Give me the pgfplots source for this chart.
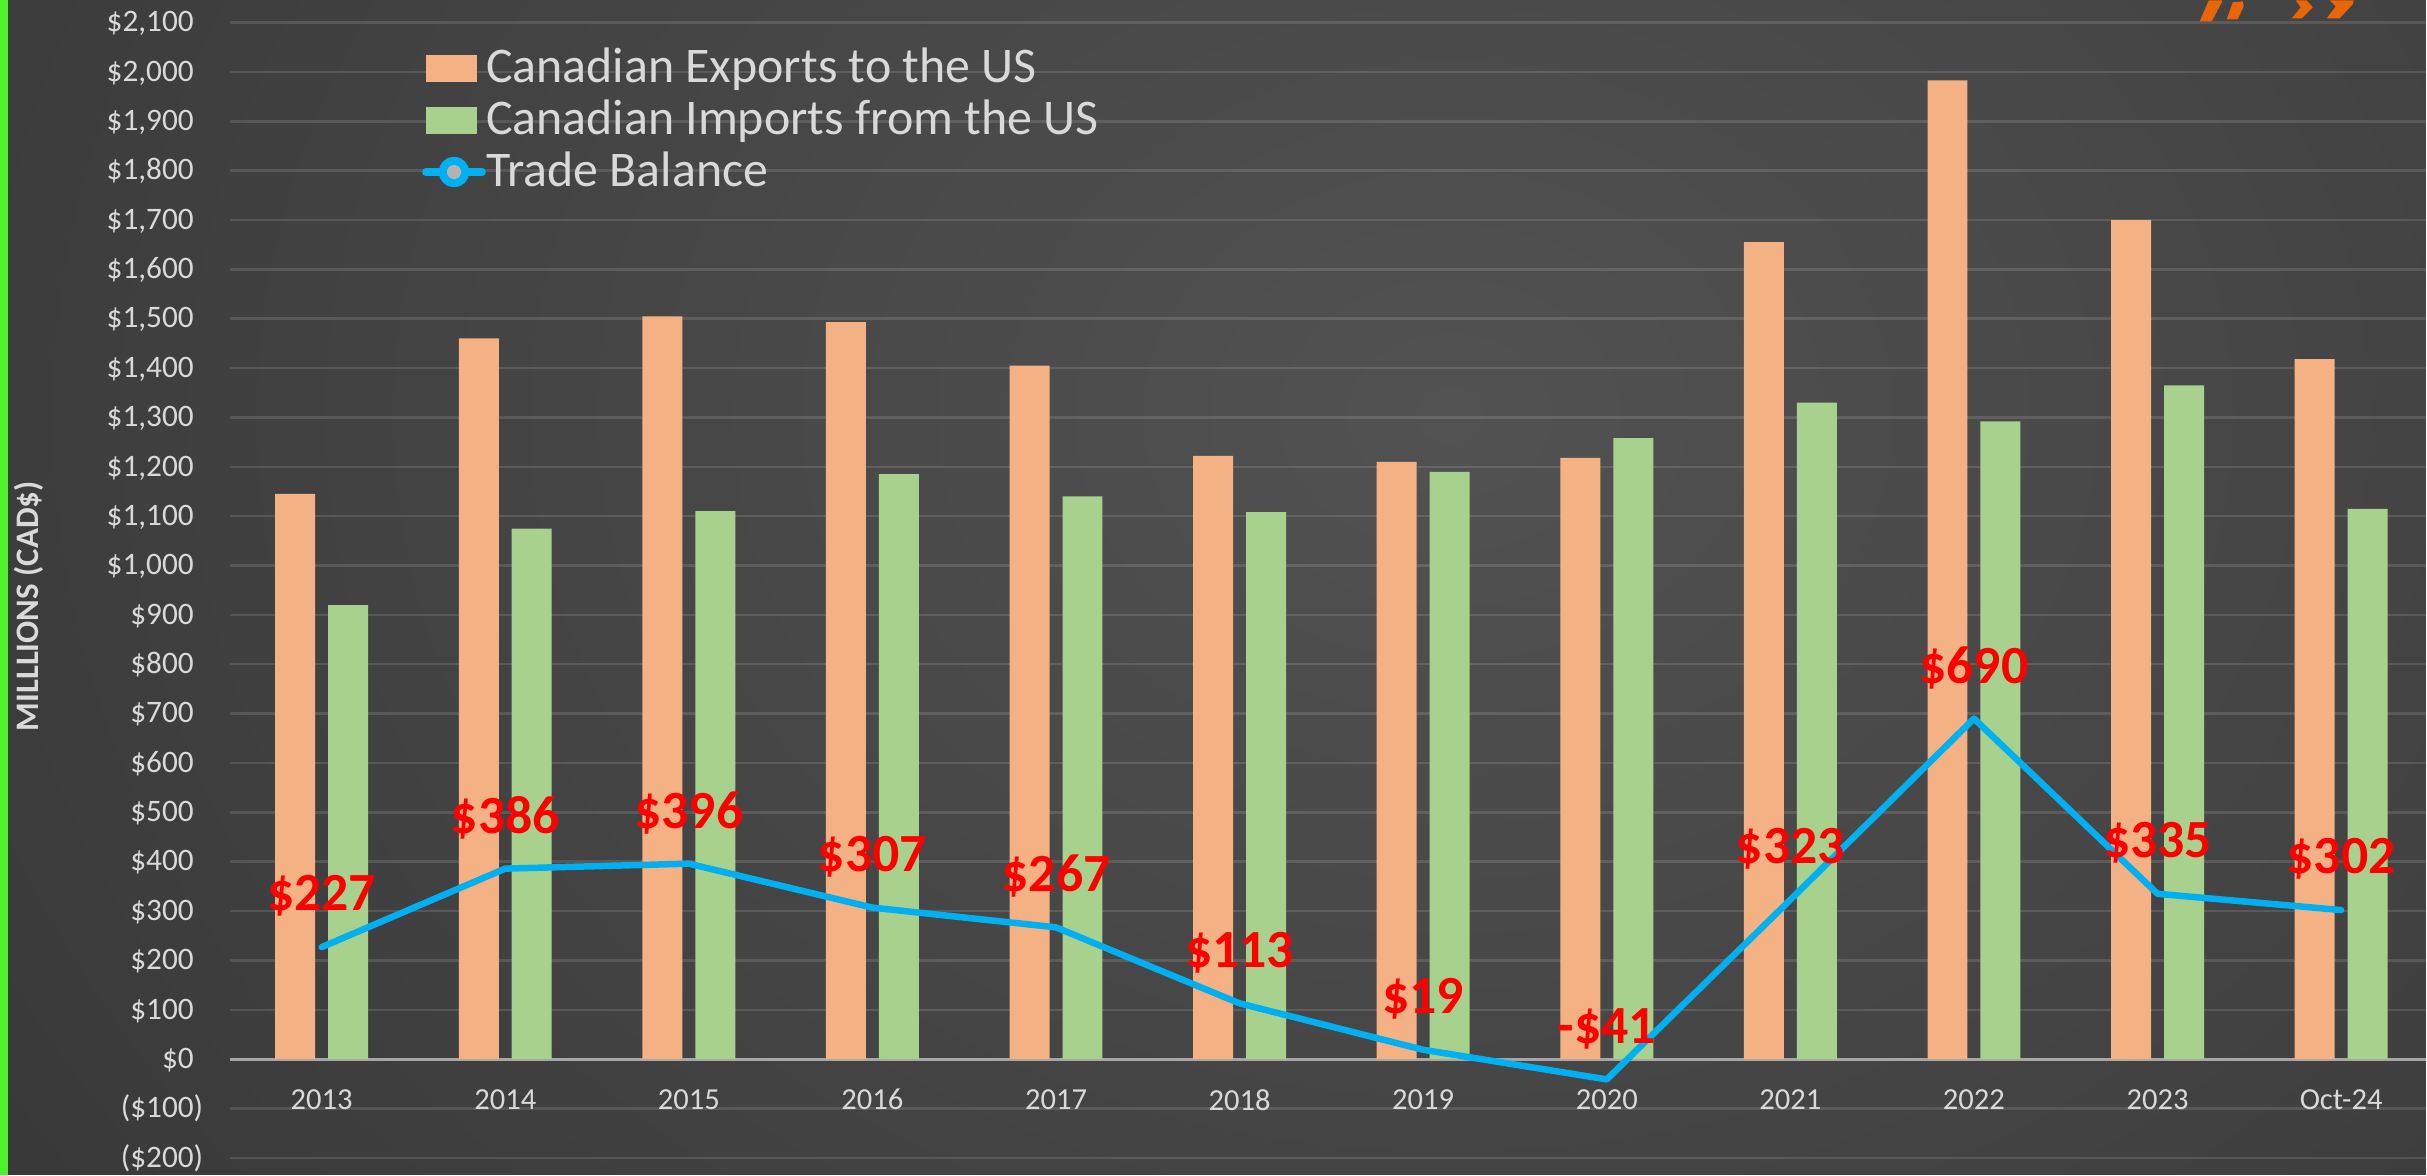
\documentclass[border=0pt]{standalone}
\usepackage{fontspec}
\setmainfont{Carlito}
\usepackage{pgfplots}
\pgfplotsset{compat=1.18}

\definecolor{bgout}{HTML}{262626}
\definecolor{bgin}{HTML}{525252}
\definecolor{expcol}{HTML}{F4B183}
\definecolor{impcol}{HTML}{A9D18E}
\definecolor{tbblue}{HTML}{00B0F0}
\definecolor{txtgray}{HTML}{D9D9D9}
\definecolor{zerogray}{HTML}{A6A6A6}
\definecolor{sidegreen}{HTML}{4DF22E}
\definecolor{logoorange}{HTML}{E8650A}

% positive labels keep room for the closing bracket of negatives
\newcommand{\pos}[1]{\$#1\phantom{)}}

\begin{document}
\begin{tikzpicture}
% background
\fill[bgout] (0,0) rectangle (24.27,11.75);
\begin{scope}
  \clip (0,0) rectangle (24.27,11.75);
  \shade[inner color=bgin, outer color=bgout] (14.5,7.6) ellipse (30 and 24);
\end{scope}
\fill[sidegreen] (0,0) rectangle (0.08,11.75);

\begin{axis}[
  at={(2.30cm,0cm)}, anchor=south west,
  scale only axis, width=21.97cm, height=11.75cm,
  xmin=-0.5, xmax=11.46, ymin=-234, ymax=2145,
  axis line style={draw=none}, major tick length=0pt,
  ymajorgrids, grid style={white, opacity=0.12, line width=0.7pt},
  extra y ticks={0}, extra y tick labels={},
  extra y tick style={grid style={zerogray, opacity=1, line width=0.8pt}},
  ytick={-200,-100,...,2100},
  yticklabels={(\$200),(\$100),\pos{0},\pos{100},\pos{200},\pos{300},\pos{400},
    \pos{500},\pos{600},\pos{700},\pos{800},\pos{900},\pos{1,000},\pos{1,100},
    \pos{1,200},\pos{1,300},\pos{1,400},\pos{1,500},\pos{1,600},\pos{1,700},
    \pos{1,800},\pos{1,900},\pos{2,000},\pos{2,100}},
  xtick={0,1,...,11},
  xticklabels={2013,2014,2015,2016,2017,2018,2019,2020,2021,2022,2023,Oct-24},
  yticklabel style={font=\fontsize{8.9}{10}\selectfont, text=txtgray,
    anchor=east, inner sep=0pt, xshift=-2.6mm},
  xticklabel style={font=\fontsize{8.7}{10}\selectfont, text=txtgray,
    anchor=center, inner sep=0pt, yshift=7.5mm},
  ylabel={MILLLIONS (CAD\$)},
  ylabel style={at={(rel axis cs:-0.0915,0.484)}, anchor=center,
    font=\bfseries\fontsize{9.35}{11}\selectfont, text=txtgray},
  legend style={at={(rel axis cs:0.0872,0.9598)}, anchor=north west,
    draw=none, fill=none, inner sep=0pt, row sep=1.2mm, column sep=0pt,
    font=\fontsize{14.2}{15}\selectfont, text=txtgray,
    nodes={inner sep=0pt}},
  legend cell align=left,
]

\addplot[ybar, bar width=0.40cm, bar shift=-0.265cm, fill=expcol, draw=none,
  legend image code/.code={\fill[expcol] (0cm,-0.135cm) rectangle (0.51cm,0.135cm);}]
  coordinates {
  (0,1145) (1,1460) (2,1505) (3,1493) (4,1405) (5,1222)
  (6,1210) (7,1218) (8,1655) (9,1983) (10,1700) (11,1418)
};
\addlegendentry{Canadian Exports to the US}

\addplot[ybar, bar width=0.40cm, bar shift=0.265cm, fill=impcol, draw=none,
  legend image code/.code={\fill[impcol] (0cm,-0.135cm) rectangle (0.51cm,0.135cm);}]
  coordinates {
  (0,920) (1,1075) (2,1110) (3,1185) (4,1140) (5,1108)
  (6,1190) (7,1258) (8,1330) (9,1292) (10,1365) (11,1115)
};
\addlegendentry{Canadian Imports from the US}

\addplot[color=tbblue, line width=1.85pt, mark=none, line join=round, line cap=round,
  nodes near coords, point meta=explicit symbolic,
  every node near coord/.append style={font=\bfseries\fontsize{15.3}{17}\selectfont,
    text=red, anchor=center, yshift=5.1mm},
  legend image code/.code={
    \draw[tbblue, line width=0.8mm, line cap=round] (0cm,0cm) -- (0.56cm,0cm);
    \fill[tbblue] (0.28cm,0cm) circle (0.12cm);
    \fill[gray!60] (0.28cm,0cm) circle (0.04cm);}]
  coordinates {
  (0,227) [\$227] (1,386) [\$386] (2,396) [\$396] (3,307) [\$307]
  (4,267) [\$267] (5,113) [\$113] (6,19) [\$19] (7,-41) [-\$41]
  (8,323) [\$323] (9,690) [\$690] (10,335) [\$335] (11,302) [\$302]
};
\addlegendentry{Trade Balance}
\end{axis}

% logo fragment at the top right (pixel units of the reference)
\begin{scope}[x=0.1mm, y=-0.1mm, shift={(0,11.75cm)}]
  \fill[logoorange] (2201,21) -- (2213,21) -- (2223,2) -- (2223,0) -- (2210,0) -- cycle;
  \fill[logoorange] (2228,19) -- (2239,19) -- (2245,6) -- (2244,1) -- (2234,2) -- cycle;
  \fill[logoorange] (2293,18) -- (2303,18) -- (2314,7) -- (2308,0) -- (2297,0) -- (2302,7) -- cycle;
  \fill[logoorange] (2328,18) -- (2341,18) -- (2354,4) -- (2355,0) -- (2331,0) -- (2337,6) -- cycle;
\end{scope}
\useasboundingbox (0,0) rectangle (24.27,11.75);
\end{tikzpicture}
\end{document}
